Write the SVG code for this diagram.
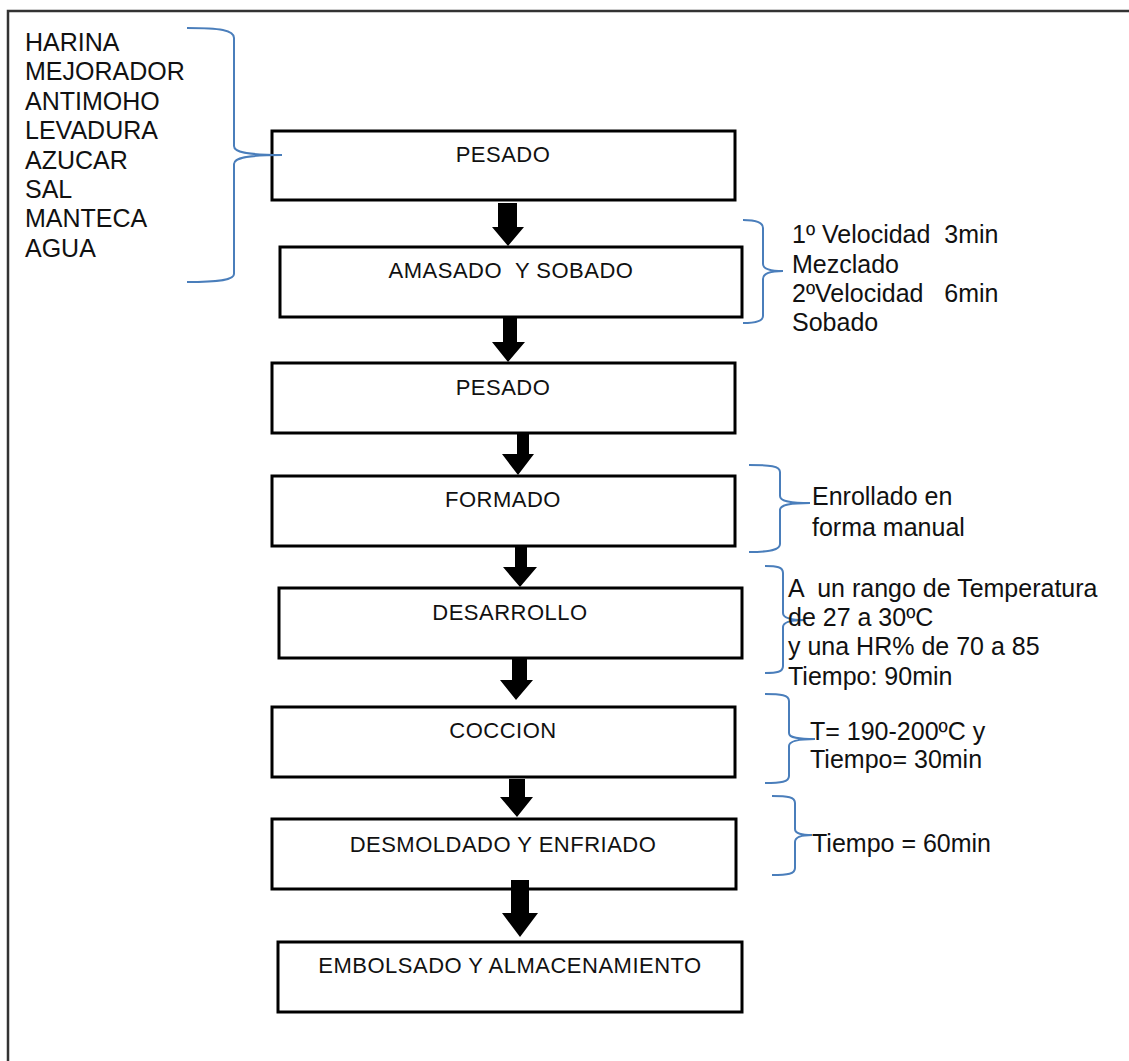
<svg xmlns="http://www.w3.org/2000/svg" width="1129" height="1061" viewBox="0 0 1129 1061">
<style>
text{white-space:pre}
.box{fill:#fff;stroke:#000;stroke-width:3}
.bt{font-family:"Liberation Sans",Arial,sans-serif;font-size:22px;letter-spacing:0.5px;fill:#111;text-anchor:middle}
.t{font-family:"Liberation Sans",Arial,sans-serif;font-size:25px;fill:#111}
.br{fill:none;stroke:#4a7ebb;stroke-width:2}
.ar{fill:#000}
</style>
<rect x="0" y="0" width="1129" height="1061" fill="#fff"/>
<path d="M8,1061 V11 H1129" fill="none" stroke="#333" stroke-width="2.5"/>

<g id="ingredients">
<text class="t" x="25" y="51">HARINA</text>
<text class="t" x="25" y="80.4">MEJORADOR</text>
<text class="t" x="25" y="109.8">ANTIMOHO</text>
<text class="t" x="25" y="139.2">LEVADURA</text>
<text class="t" x="25" y="168.6">AZUCAR</text>
<text class="t" x="25" y="198">SAL</text>
<text class="t" x="25" y="227.4">MANTECA</text>
<text class="t" x="25" y="256.8">AGUA</text>
</g>

<g id="n1"><rect class="box" x="272" y="131" width="463" height="69"/><text class="bt" x="503" y="162">PESADO</text></g>
<g id="n2"><rect class="box" x="280" y="247" width="462" height="70"/><text class="bt" x="511" y="278">AMASADO  Y SOBADO</text></g>
<g id="n3"><rect class="box" x="272" y="363" width="463" height="70"/><text class="bt" x="503" y="395">PESADO</text></g>
<g id="n4"><rect class="box" x="272" y="476" width="463" height="70"/><text class="bt" x="503" y="507">FORMADO</text></g>
<g id="n5"><rect class="box" x="279" y="588" width="463" height="70"/><text class="bt" x="510" y="620">DESARROLLO</text></g>
<g id="n6"><rect class="box" x="272" y="707" width="463" height="70"/><text class="bt" x="503" y="738">COCCION</text></g>
<g id="n7"><rect class="box" x="272" y="819" width="464" height="70"/><text class="bt" x="503" y="852">DESMOLDADO Y ENFRIADO</text></g>
<g id="n8"><rect class="box" x="278" y="942" width="464" height="70"/><text class="bt" x="510" y="973">EMBOLSADO Y ALMACENAMIENTO</text></g>

<g id="connectors">
<polygon class="ar" points="498,203 517,203 517,227 524,227 508,246 492,227 498,227"/>
<polygon class="ar" points="503,318 517,318 517,342 525,342 508,362 492,342 503,342"/>
<polygon class="ar" points="517,434 529,434 529,454 534,454 518,475 502,454 517,454"/>
<polygon class="ar" points="515,547 527,547 527,567 537,567 520,587 503,567 515,567"/>
<polygon class="ar" points="512,658 527,658 527,680 533,680 516,700 500,680 512,680"/>
<polygon class="ar" points="509,779 525,779 525,797 533,797 517,817 500,797 509,797"/>
<polygon class="ar" points="511,880 529,880 529,913 538,913 520,937 502,913 511,913"/>
</g>

<g id="braces">
<path class="br" d="M187,28 C220,28 234,30 234,38 V146 C234,152 246,155 282,155 M282,155 C246,155 234,158 234,164 V274 C234,280 220,282 187,282"/>
<path class="br" d="M743,220 C756,220 763,222 763,228 V264 C763,269 770,271 783,271 M783,271 C770,271 763,273 763,279 V316 C763,321 756,323 743,323"/>
<path class="br" d="M749,465 C770,465 780,466 780,472 V496 C780,501 788,503 810,503 M810,503 C788,503 780,505 780,510 V544 C780,550 770,552 749,552"/>
<path class="br" d="M765,566 C777,566 783,567 783,573 V613 C783,618 790,620 805,620 M805,620 C790,620 783,622 783,627 V666 C783,672 777,673 765,673"/>
<path class="br" d="M765,694 C781,694 789,695 789,701 V733 C789,738 798,739 815,739 M815,739 C798,739 789,741 789,746 V776 C789,782 781,783 765,783"/>
<path class="br" d="M772,796 C788,796 795,797 795,803 V829 C795,834 802,835 812,835 M812,835 C802,835 795,837 795,842 V868 C795,874 788,875 772,875"/>
</g>

<g id="notes">
<text class="t" x="792" y="243">1º Velocidad  3min</text>
<text class="t" x="792" y="273">Mezclado</text>
<text class="t" x="792" y="302">2ºVelocidad   6min</text>
<text class="t" x="792" y="331">Sobado</text>
<text class="t" x="812" y="505">Enrollado en</text>
<text class="t" x="812" y="536">forma manual</text>
<text class="t" x="788" y="597">A  un rango de Temperatura</text>
<text class="t" x="788" y="626">de 27 a 30ºC</text>
<text class="t" x="788" y="655">y una HR% de 70 a 85</text>
<text class="t" x="788" y="685">Tiempo: 90min</text>
<text class="t" x="810" y="740">T= 190-200ºC y</text>
<text class="t" x="810" y="768">Tiempo= 30min</text>
<text class="t" x="812" y="852">Tiempo = 60min</text>
</g>
</svg>
